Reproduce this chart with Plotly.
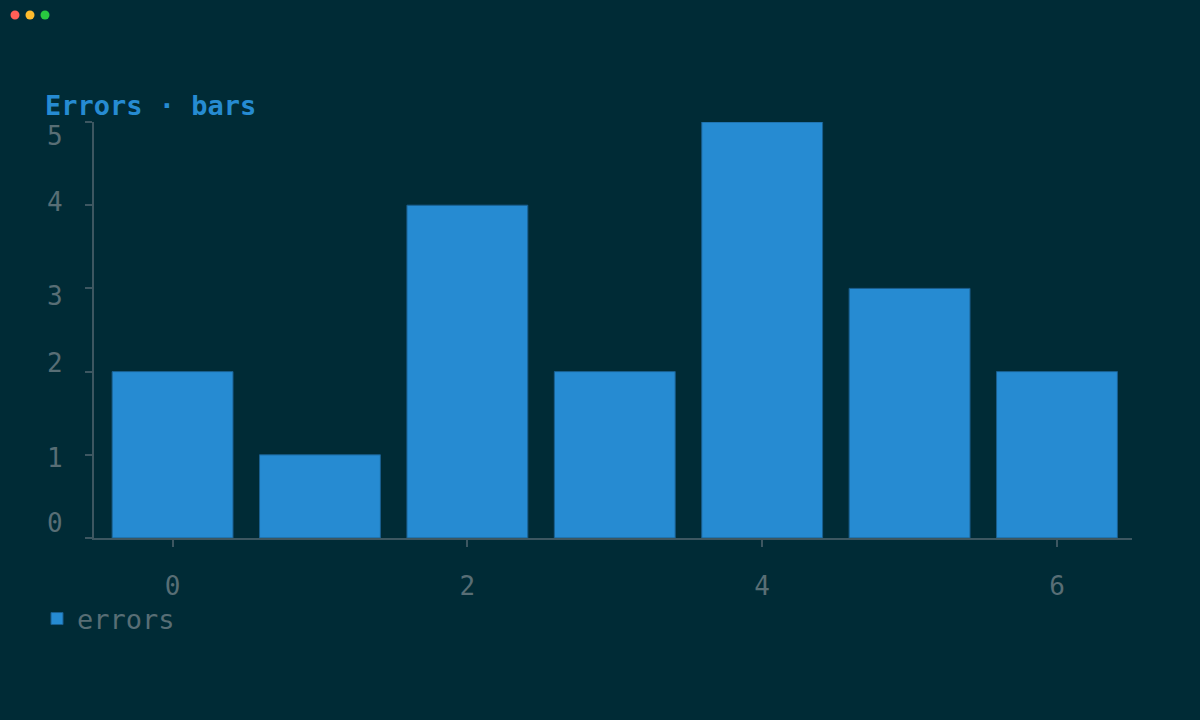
import plotly.graph_objects as go

BG_COLOUR    = "#002b36"
BAR_COLOUR   = "#268bd2"
TEXT_COLOUR  = "#586e75"
AXIS_COLOUR  = "#3d5761"
FONT_FAMILY  = "DejaVu Sans Mono, monospace"

# ── Data ──────────────────────────────────────────────────────────────────────
x_values     = [0, 1, 2, 3, 4, 5, 6]
error_counts = [2, 1, 4, 2, 5, 3, 2]
x_ticks      = [0, 2, 4, 6]
y_ticks      = [0, 1, 2, 3, 4, 5]

# y tick labels in the reference sit a little off their ticks (pixels, + = down)
Y_LABEL_OFFSETS = [-15, 3, -9, 8, -3, 14]

# plot area in pixels (1200x720 page)
PLOT_L, PLOT_R, PLOT_T, PLOT_B = 94, 1132, 122, 538
W, H = 1200, 720
PLOT_W, PLOT_H = PLOT_R - PLOT_L, PLOT_B - PLOT_T

fig = go.Figure()
fig.add_trace(go.Bar(
    x=x_values,
    y=error_counts,
    name="errors",
    marker=dict(color=BAR_COLOUR, line=dict(color="#1a5f8f", width=1)),
    showlegend=True,
))

# window dots, top left
for cx, colour in [(15, "#ff5f57"), (30, "#febc2e"), (45, "#28c840")]:
    fig.add_shape(
        type="circle", xref="paper", yref="paper",
        xsizemode="pixel", ysizemode="pixel",
        xanchor=(cx - PLOT_L) / PLOT_W, yanchor=(PLOT_B - 15) / PLOT_H,
        x0=-4.5, x1=4.5, y0=-4.5, y1=4.5,
        fillcolor=colour, line_width=0,
    )

# y tick labels
for val, off in zip(y_ticks, Y_LABEL_OFFSETS):
    fig.add_annotation(
        text=str(val), xref="paper", yref="y",
        x=(45 - PLOT_L) / PLOT_W, y=val, xanchor="left", yanchor="middle",
        yshift=-off, showarrow=False,
        font=dict(family=FONT_FAMILY, size=26, color=TEXT_COLOUR),
    )

fig.update_layout(
    width=W,
    height=H,
    title=dict(
        text="<b>Errors · bars</b>",
        font=dict(family=FONT_FAMILY, size=27, color=BAR_COLOUR),
        xref="container", x=45 / W, xanchor="left",
        yref="container", y=1 - 106 / H, yanchor="middle",
    ),
    font=dict(family=FONT_FAMILY, size=26, color=TEXT_COLOUR),
    plot_bgcolor=BG_COLOUR,
    paper_bgcolor=BG_COLOUR,
    bargap=0.18,
    margin=dict(l=PLOT_L, r=W - PLOT_R, t=PLOT_T, b=H - PLOT_B, pad=0),
    xaxis=dict(
        range=[-0.533, 6.509],
        tickvals=x_ticks,
        showgrid=False, zeroline=False,
        showline=True, linecolor=AXIS_COLOUR, linewidth=2,
        ticks="outside", ticklen=7, tickcolor=AXIS_COLOUR, tickwidth=2,
        ticklabelstandoff=17,
    ),
    yaxis=dict(
        range=[0, 5],
        tickvals=y_ticks,
        showticklabels=False,
        showgrid=False, zeroline=False,
        showline=True, linecolor=AXIS_COLOUR, linewidth=2,
        ticks="outside", ticklen=7, tickcolor=AXIS_COLOUR, tickwidth=2,
    ),
    legend=dict(
        orientation="h",
        x=(37 - PLOT_L) / PLOT_W, xanchor="left",
        y=(PLOT_B - 619) / PLOT_H, yanchor="middle",
        font=dict(family=FONT_FAMILY, size=27, color=TEXT_COLOUR),
        bgcolor="rgba(0,0,0,0)",
    ),
)

fig.write_html(
    "out.html",
    config={"displayModeBar": False},
    post_script="document.body.style.margin='0';document.body.style.background='%s';" % BG_COLOUR,
)
